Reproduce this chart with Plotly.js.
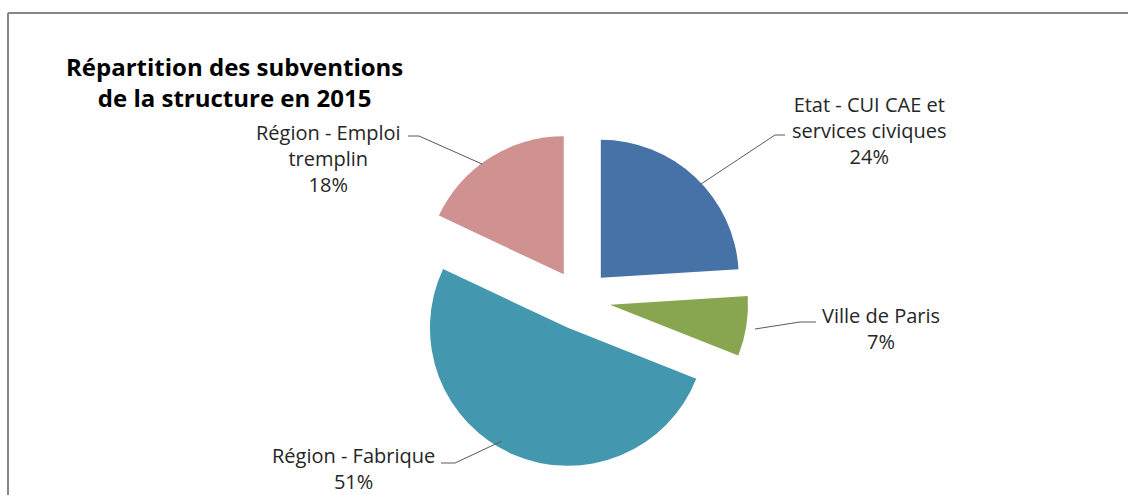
<!DOCTYPE html>
<html>
<head>
<meta charset="utf-8">
<script src="https://cdn.plot.ly/plotly-3.0.1.min.js"></script>
<style>
  html, body { margin: 0; padding: 0; background: #ffffff; }
  #chart { width: 1128px; height: 495px; }
</style>
</head>
<body>
<div id="chart"></div>
<script>
// ---- Data ----
const categories = [
  'Etat - CUI CAE et<br>services civiques',
  'Ville de Paris',
  'Région - Fabrique',
  'Région - Emploi<br>tremplin'
];
const values = [24, 7, 51, 18];
const colors = ['#4672A7', '#88A54F', '#4398AF', '#D09290'];
const titleText = 'Répartition des subventions<br>de la structure en 2015';

// ---- Layout helpers (pixel -> paper) ----
const W = 1128, H = 495;
const px = x => x / W;
const py = y => 1 - y / H;

const total = values.reduce((a, b) => a + b, 0);
const pct = values.map(v => Math.round(v / total * 100) + '%');

// label placement (pixels) for each category, in same order
const labelPos = [
  { x: 869, y: 131 },
  { x: 881, y: 328 },
  { x: 353, y: 468 },
  { x: 328, y: 158 }
];
// leader lines (pixels)
const leaders = [
  [[785, 135], [775, 135], [701, 184]],
  [[816, 322], [800, 322], [755, 329]],
  [[441, 463], [455, 463], [502, 441]],
  [[408, 136], [419, 136], [482, 164]]
];

const R = 138, PULL = 0.22, CX = 580, CY = 300;
const half = R * (1 + PULL);

const trace = {
  type: 'pie',
  labels: categories,
  values: values,
  sort: false,
  direction: 'clockwise',
  rotation: 0,
  pull: values.map(() => PULL),
  marker: { colors: colors, line: { width: 0 } },
  textinfo: 'none',
  hoverinfo: 'label+percent',
  showlegend: false,
  domain: {
    x: [px(CX - half), px(CX + half)],
    y: [py(CY + half), py(CY - half)]
  }
};

const font = { family: '"Open Sans", Lato, sans-serif', size: 20, color: '#262626' };

const annotations = categories.map((c, i) => ({
  xref: 'paper', yref: 'paper',
  x: px(labelPos[i].x), y: py(labelPos[i].y),
  xanchor: 'center', yanchor: 'middle',
  text: c + '<br>' + pct[i],
  showarrow: false,
  align: 'center',
  font: font
}));

annotations.push({
  xref: 'paper', yref: 'paper',
  x: px(234), y: py(82),
  xanchor: 'center', yanchor: 'middle',
  text: '<b>' + titleText + '</b>',
  showarrow: false,
  align: 'center',
  font: { family: '"Open Sans", Lato, sans-serif', size: 24, color: '#000000' }
});

const shapes = [
  { type: 'line', xref: 'paper', yref: 'paper', x0: px(8), y0: py(13), x1: px(1130), y1: py(13),
    line: { color: '#868686', width: 2 } },
  { type: 'line', xref: 'paper', yref: 'paper', x0: px(8), y0: py(13), x1: px(8), y1: py(497),
    line: { color: '#868686', width: 2 } }
];
leaders.forEach(pts => {
  const d = pts.map((p, k) => (k ? 'L' : 'M') + px(p[0]) + ',' + py(p[1])).join(' ');
  shapes.push({ type: 'path', xref: 'paper', yref: 'paper', path: d,
    line: { color: '#595959', width: 1 } });
});

const layout = {
  width: W, height: H,
  margin: { l: 0, r: 0, t: 0, b: 0 },
  paper_bgcolor: '#ffffff',
  plot_bgcolor: '#ffffff',
  annotations: annotations,
  shapes: shapes,
  showlegend: false
};

Plotly.newPlot('chart', [trace], layout, { displayModeBar: false, staticPlot: true });
</script>
</body>
</html>
